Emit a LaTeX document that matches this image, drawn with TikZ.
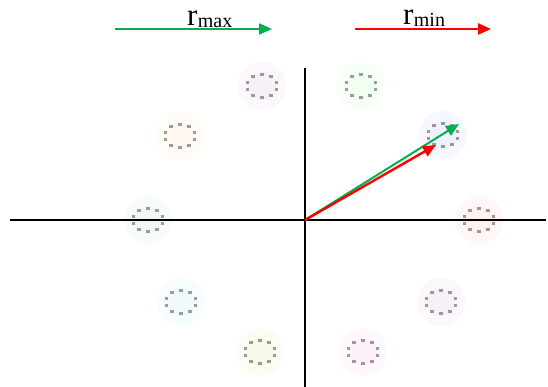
\documentclass[tikz,border=0pt]{standalone}
\usepackage{fontspec}
\setmainfont{Liberation Serif}
\usetikzlibrary{arrows.meta}
\definecolor{cgreen}{RGB}{0,176,80}
\definecolor{cred}{RGB}{255,0,0}
\begin{document}
\begin{tikzpicture}[x=1pt,y=-1pt,
  axis/.style={line width=2pt,black},
  garrow/.style={cgreen,line width=2pt,-{Triangle[length=13pt,width=11pt]}},
  rarrow/.style={cred,line width=2.4pt,-{Triangle[length=13pt,width=11pt]}},
  bigr/.style={anchor=base west,inner sep=0pt,font=\fontsize{31}{31}\selectfont},
  subr/.style={anchor=base west,inner sep=0pt,font=\fontsize{20}{20}\selectfont},
  dot/.style={fill=black!75,opacity=0.5}]
\useasboundingbox (0,0) rectangle (548,387);
% glows and dotted rings
\foreach \cx/\cy/\col in {262/86/violet,361/86/green,443/135/blue,479/220/red,441/302/violet,363/352/magenta,260/352/olive,181/302/cyan,148/220/teal,180/136/orange}{
  \fill[\col!3] (\cx,\cy) circle (24);
  \fill[\col!6] (\cx,\cy) circle (14);
  \foreach \a in {18,54,...,342}{
    \fill[dot] ({\cx+15*cos(\a)-1.7},{\cy+11.5*sin(\a)-1.3}) rectangle ++(3.4,2.6);
  }
}
% axes
\coordinate (xl) at (10,220);
\coordinate (xr) at (546,220);
\coordinate (yt) at (305,68);
\coordinate (yb) at (305,387);
\coordinate (O) at (305,220);
\draw[axis] (xl) -- (xr);
\draw[axis] (yt) -- (yb);
% vectors
\coordinate (gtip) at (459,124);
\coordinate (rtip) at (436,145);
\draw[garrow] (O) -- (gtip);
\draw[rarrow] (O) -- (rtip);
% legend
\coordinate (g1) at (115,29);
\coordinate (g2) at (272,29);
\coordinate (r1) at (355,29);
\coordinate (r2) at (491,29);
\draw[garrow] (g1) -- (g2);
\draw[rarrow] (r1) -- (r2);
\node[bigr] (rmax) at (187,26) {r};
\node[subr,yshift=-1.5pt] (rmaxs) at (rmax.base east) {max};
\node[bigr] (rmin) at (403,25) {r};
\node[subr,yshift=-1.5pt] (rmins) at (rmin.base east) {min};
\end{tikzpicture}
\end{document}
